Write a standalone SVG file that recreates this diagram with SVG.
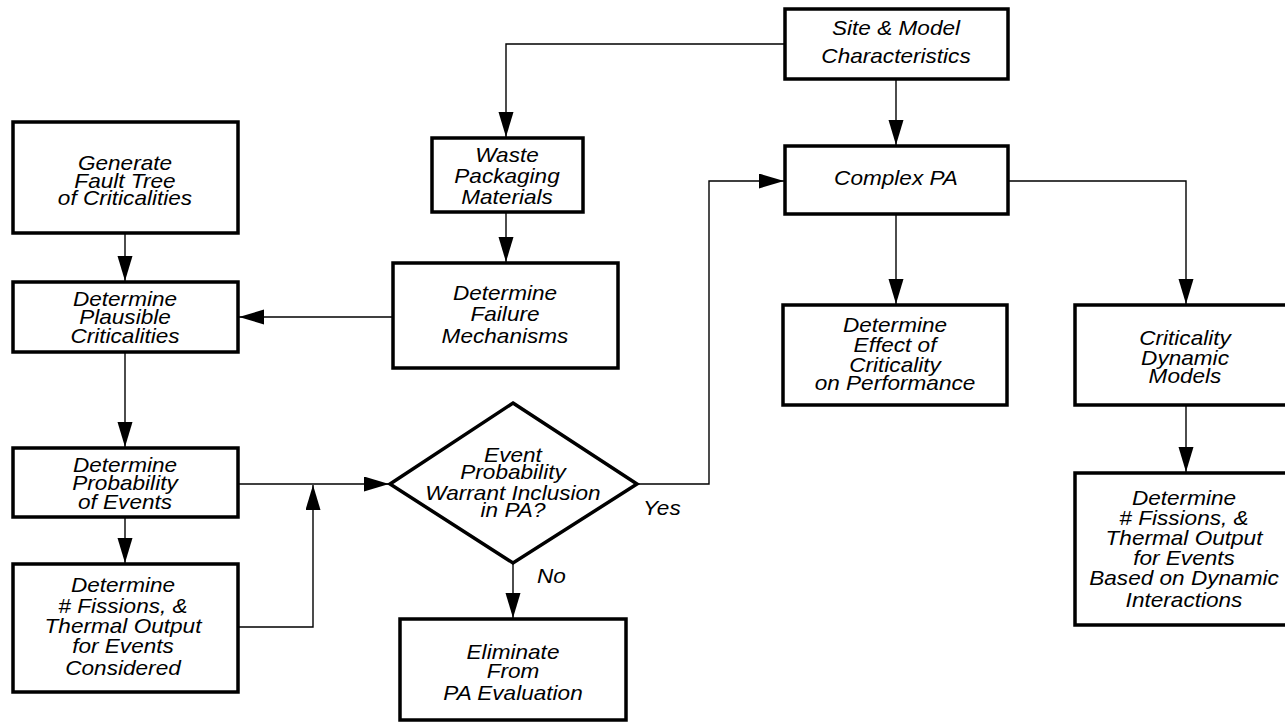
<svg xmlns="http://www.w3.org/2000/svg" width="1285" height="723" viewBox="0 0 1285 723">
<style>
  .box { fill: #fff; stroke: #000; stroke-width: 3.5; }
  .edge { fill: none; stroke: #000; stroke-width: 1.4; }
  text { font-family: "Liberation Sans", Arial, sans-serif; font-style: italic; font-size: 20px; fill: #000; text-anchor: middle; }
  .lbl { text-anchor: start; }
</style>
<defs>
  <marker id="arr" markerUnits="userSpaceOnUse" markerWidth="26" markerHeight="16" refX="25" refY="7.5" orient="auto">
    <path d="M0,0 L25,7.5 L0,15 z" fill="#000"/>
  </marker>
</defs>
<rect width="1285" height="723" fill="#fff"/>

<g id="connectors">
  <path class="edge" d="M785,44 H506 V137" marker-end="url(#arr)"/>
  <path class="edge" d="M506,212 V262" marker-end="url(#arr)"/>
  <path class="edge" d="M125,233 V281" marker-end="url(#arr)"/>
  <path class="edge" d="M393,317 H239" marker-end="url(#arr)"/>
  <path class="edge" d="M125,352 V447" marker-end="url(#arr)"/>
  <path class="edge" d="M125,517 V563" marker-end="url(#arr)"/>
  <path class="edge" d="M238,484 H389" marker-end="url(#arr)"/>
  <path class="edge" d="M238,627 H313 V485" marker-end="url(#arr)"/>
  <path class="edge" d="M637,484 H709 V181 H784" marker-end="url(#arr)"/>
  <path class="edge" d="M513,563 V618" marker-end="url(#arr)"/>
  <path class="edge" d="M896,79 V145" marker-end="url(#arr)"/>
  <path class="edge" d="M896,214 V304" marker-end="url(#arr)"/>
  <path class="edge" d="M1008,181 H1186 V304" marker-end="url(#arr)"/>
  <path class="edge" d="M1186,405 V472" marker-end="url(#arr)"/>
</g>

<g id="generate">
  <rect class="box" x="13" y="122" width="225" height="111"/>
  <g transform="translate(125 0) scale(1.13 1)">
    <text x="0" y="170">Generate</text>
    <text x="0" y="188">Fault Tree</text>
    <text x="0" y="205">of Criticalities</text>
  </g>
</g>
<g id="plausible">
  <rect class="box" x="13" y="282" width="225" height="70"/>
  <g transform="translate(125 0) scale(1.13 1)">
    <text x="0" y="306">Determine</text>
    <text x="0" y="324">Plausible</text>
    <text x="0" y="343">Criticalities</text>
  </g>
</g>
<g id="probability">
  <rect class="box" x="13" y="448" width="225" height="69"/>
  <g transform="translate(125 0) scale(1.13 1)">
    <text x="0" y="472">Determine</text>
    <text x="0" y="490">Probability</text>
    <text x="0" y="509">of Events</text>
  </g>
</g>
<g id="fissions-left">
  <rect class="box" x="13" y="564" width="225" height="128"/>
  <g transform="translate(123 0) scale(1.13 1)">
    <text x="0" y="592">Determine</text>
    <text x="0" y="613"># Fissions, &amp;</text>
    <text x="0" y="633">Thermal Output</text>
    <text x="0" y="653">for Events</text>
    <text x="0" y="675">Considered</text>
  </g>
</g>
<g id="waste">
  <rect class="box" x="432" y="138" width="151" height="74"/>
  <g transform="translate(507 0) scale(1.13 1)">
    <text x="0" y="162">Waste</text>
    <text x="0" y="183">Packaging</text>
    <text x="0" y="204">Materials</text>
  </g>
</g>
<g id="failure">
  <rect class="box" x="393" y="263" width="225" height="105"/>
  <g transform="translate(505 0) scale(1.13 1)">
    <text x="0" y="300">Determine</text>
    <text x="0" y="321">Failure</text>
    <text x="0" y="343">Mechanisms</text>
  </g>
</g>
<g id="decision">
  <polygon class="box" points="513,403 637,484 513,563 390,484"/>
  <g transform="translate(513 0) scale(1.13 1)">
    <text x="0" y="462">Event</text>
    <text x="0" y="479">Probability</text>
    <text x="0" y="500">Warrant Inclusion</text>
    <text x="0" y="517">in PA?</text>
  </g>
</g>
<g id="labels">
  <g transform="translate(643 0) scale(1.13 1)"><text class="lbl" x="0" y="515">Yes</text></g>
  <g transform="translate(537 0) scale(1.13 1)"><text class="lbl" x="0" y="583">No</text></g>
</g>
<g id="eliminate">
  <rect class="box" x="400" y="619" width="226" height="101"/>
  <g transform="translate(513 0) scale(1.13 1)">
    <text x="0" y="659">Eliminate</text>
    <text x="0" y="678">From</text>
    <text x="0" y="700">PA Evaluation</text>
  </g>
</g>
<g id="site">
  <rect class="box" x="785" y="9" width="223" height="70"/>
  <g transform="translate(896 0) scale(1.13 1)">
    <text x="0" y="35">Site &amp; Model</text>
    <text x="0" y="63">Characteristics</text>
  </g>
</g>
<g id="complex">
  <rect class="box" x="785" y="146" width="223" height="68"/>
  <g transform="translate(896 0) scale(1.13 1)">
    <text x="0" y="185">Complex PA</text>
  </g>
</g>
<g id="effect">
  <rect class="box" x="783" y="305" width="224" height="100"/>
  <g transform="translate(895 0) scale(1.13 1)">
    <text x="0" y="332">Determine</text>
    <text x="0" y="352">Effect of</text>
    <text x="0" y="372">Criticality</text>
    <text x="0" y="390">on Performance</text>
  </g>
</g>
<g id="dynamic-models">
  <rect class="box" x="1075" y="305" width="222" height="100"/>
  <g transform="translate(1185 0) scale(1.13 1)">
    <text x="0" y="345">Criticality</text>
    <text x="0" y="365">Dynamic</text>
    <text x="0" y="383">Models</text>
  </g>
</g>
<g id="fissions-right">
  <rect class="box" x="1075" y="473" width="222" height="152"/>
  <g transform="translate(1184 0) scale(1.13 1)">
    <text x="0" y="505">Determine</text>
    <text x="0" y="525"># Fissions, &amp;</text>
    <text x="0" y="545">Thermal Output</text>
    <text x="0" y="565">for Events</text>
    <text x="0" y="585">Based on Dynamic</text>
    <text x="0" y="607">Interactions</text>
  </g>
</g>
</svg>
